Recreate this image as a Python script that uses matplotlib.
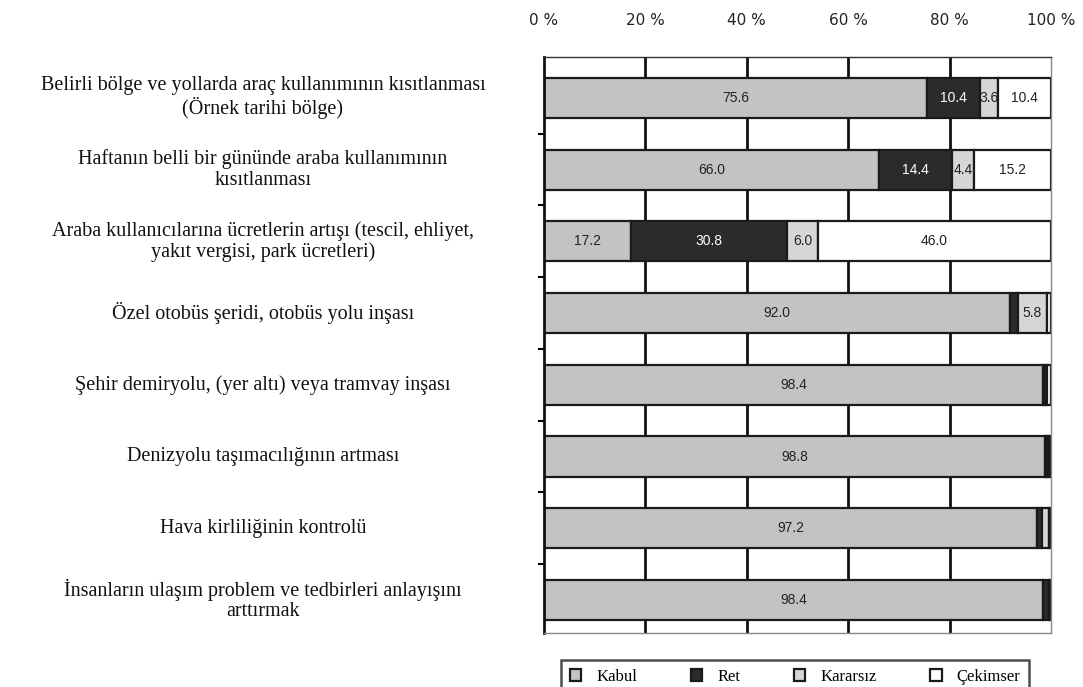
import matplotlib.pyplot as plt
import numpy as np
from matplotlib.transforms import blended_transform_factory

categories = [
    "Belirli bölge ve yollarda araç kullanımının kısıtlanması\n(Örnek tarihi bölge)",
    "Haftanın belli bir gününde araba kullanımının\nkısıtlanması",
    "Araba kullanıcılarına ücretlerin artışı (tescil, ehliyet,\nyakıt vergisi, park ücretleri)",
    "Özel otobüs şeridi, otobüs yolu inşası",
    "Şehir demiryolu, (yer altı) veya tramvay inşası",
    "Denizyolu taşımacılığının artması",
    "Hava kirliliğinin kontrolü",
    "İnsanların ulaşım problem ve tedbirleri anlayışını\narttırmak",
]

kabul = [75.6, 66.0, 17.2, 92.0, 98.4, 98.8, 97.2, 98.4]
ret = [10.4, 14.4, 30.8, 1.4, 0.4, 0.4, 1.0, 1.2]
kararsiz = [3.6, 4.4, 6.0, 5.8, 0.4, 0.4, 1.4, 0.4]
cekimser = [10.4, 15.2, 46.0, 0.8, 0.8, 0.4, 0.4, 0.0]

series = [
    ("Kabul", kabul, "#c3c3c3", "#222222"),
    ("Ret", ret, "#2b2b2b", "white"),
    ("Kararsız", kararsiz, "#d6d6d6", "#222222"),
    ("Çekimser", cekimser, "white", "#222222"),
]
xticks = [0, 20, 40, 60, 80, 100]
xtick_labels = ["0 %", "20 %", "40 %", "60 %", "80 %", "100 %"]

W, H = 1083, 687
fig = plt.figure(figsize=(W / 100, H / 100), dpi=100)
ax = fig.add_axes([544 / W, 1 - 633 / H, (1051 - 544) / W, (633 - 57) / H])

y = np.arange(len(categories))
left = np.zeros(len(categories))
bar_h = 0.56

# vertical grid lines sit behind the bars
for gx in [20, 40, 60, 80]:
    ax.axvline(gx, color="#111111", lw=2, zorder=0)

for name, vals, color, tcolor in series:
    vals = np.array(vals)
    bars = ax.barh(y, vals, left=left, height=bar_h, color=color,
                   edgecolor="#1a1a1a", linewidth=1.6, label=name, zorder=2)
    for rect, v, l, yi in zip(bars, vals, left, y):
        if v >= 3:
            t = ax.text(l + v / 2, yi, f"{v:.1f}", ha="center", va="center",
                        fontsize=10, family="Liberation Sans", color=tcolor,
                        zorder=3)
            t.set_clip_path(rect)
    left = left + vals

ax.set_xlim(0, 100)
ax.set_ylim(7.46, -0.57)
ax.xaxis.tick_top()
ax.set_xticks(xticks)
ax.set_xticklabels(xtick_labels, fontsize=11, family="DejaVu Sans",
                   color="#222222")
ax.tick_params(axis="x", length=0, pad=21)
ax.set_yticks(y[:-1] + 0.5)
ax.set_yticklabels([])
ax.tick_params(axis="y", length=4, width=1.5, direction="out")
for s in ax.spines.values():
    s.set_color("#888888")
    s.set_linewidth(1)
ax.spines["left"].set_color("#111111")
ax.spines["left"].set_linewidth(2)
ax.spines["top"].set_color("#333333")

# category names to the left of the plot
trans = blended_transform_factory(fig.transFigure, ax.transData)
for yi, cat in zip(y, categories):
    ax.text(263 / W, yi, cat, transform=trans, ha="center", va="center",
            fontsize=14.5, family="Liberation Serif", color="#111111",
            linespacing=1.1)

handles, labels = ax.get_legend_handles_labels()
leg = fig.legend(handles, labels, loc="upper left", ncol=4,
                 bbox_to_anchor=(553 / W, 1 - 652 / H),
                 prop={"family": "Liberation Serif", "size": 12},
                 handlelength=0.7, handleheight=0.7, handletextpad=0.9,
                 columnspacing=3.2, frameon=True, fancybox=False,
                 borderpad=0.5)
leg.get_frame().set_edgecolor("#222222")
leg.get_frame().set_linewidth(1.8)

fig.savefig("out.png", dpi=100)
